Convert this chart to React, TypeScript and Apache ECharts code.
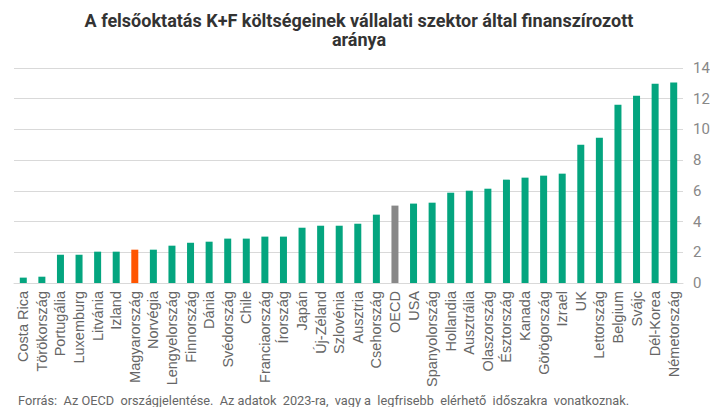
import React, { useEffect, useRef } from "react";
import * as echarts from "echarts";

const categories = [
  "Costa Rica", "Törökország", "Portugália", "Luxemburg", "Litvánia", "Izland",
  "Magyarország", "Norvégia", "Lengyelország", "Finnország", "Dánia", "Svédország",
  "Chile", "Franciaország", "Írország", "Japán", "Új-Zéland", "Szlovénia", "Ausztria",
  "Csehország", "OECD", "USA", "Spanyolország", "Hollandia", "Ausztrália", "Olaszország",
  "Észtország", "Kanada", "Görögország", "Izrael", "UK", "Lettország", "Belgium",
  "Svájc", "Dél-Korea", "Németország",
];

const values = [
  0.35, 0.41, 1.84, 1.84, 2.04, 2.04,
  2.17, 2.17, 2.43, 2.62, 2.69, 2.89,
  2.89, 3.02, 3.02, 3.6, 3.73, 3.73, 3.86,
  4.45, 5.04, 5.17, 5.23, 5.88, 6.01, 6.14,
  6.73, 6.86, 6.99, 7.12, 9.01, 9.46, 11.61,
  12.2, 12.98, 13.05,
];

const titleLines = [
  "A felsőoktatás K+F költségeinek vállalati szektor által finanszírozott",
  "aránya",
];
const sourceText = "Forrás:  Az OECD  országjelentése.  Az adatok  2023-ra,  vagy a  legfrisebb  elérhető  időszakra  vonatkoznak.";

const GREEN = "#04a57f";
const ORANGE = "#ff5500";
const GREY = "#888888";

export default function App() {
  const ref = useRef<HTMLDivElement>(null);
  useEffect(() => {
    if (!ref.current) return;
    const chart = echarts.init(ref.current, null, { renderer: "svg" });
    chart.setOption({
      animation: false,
      backgroundColor: "#ffffff",
      grid: { left: 14, right: 35, top: 68, bottom: 132, containLabel: false },
      xAxis: {
        type: "category",
        data: categories,
        axisLine: { show: true, lineStyle: { color: "#d9d9d9" } },
        axisTick: { show: false },
        axisLabel: {
          interval: 0,
          rotate: 90,
          fontFamily: "Liberation Sans, Arial",
          fontSize: 14.5,
          color: "#666666",
          margin: 8,
        },
      },
      yAxis: {
        type: "value",
        position: "right",
        min: 0,
        max: 14,
        interval: 2,
        axisLine: { show: false },
        axisTick: { show: false },
        splitLine: { lineStyle: { color: "#d9d9d9", width: 1 } },
        axisLabel: {
          fontFamily: "Roboto",
          fontSize: 15,
          color: "#888888",
          margin: 10,
        },
      },
      series: [
        {
          type: "bar",
          barWidth: 7,
          data: values.map((v, i) => ({
            value: v,
            itemStyle: {
              color:
                categories[i] === "Magyarország"
                  ? ORANGE
                  : categories[i] === "OECD"
                  ? GREY
                  : GREEN,
            },
          })),
        },
      ],
      graphic: [
        {
          type: "text",
          x: 359,
          y: 20,
          style: {
            text: titleLines[0],
            fontFamily: "Roboto",
            fontWeight: "bold",
            fontSize: 18,
            fill: "#333333",
            align: "center",
            verticalAlign: "middle",
          },
        },
        {
          type: "text",
          x: 359,
          y: 39,
          style: {
            text: titleLines[1],
            fontFamily: "Roboto",
            fontWeight: "bold",
            fontSize: 18,
            fill: "#333333",
            align: "center",
            verticalAlign: "middle",
          },
        },
        {
          type: "text",
          x: 18,
          y: 400,
          style: {
            text: sourceText,
            fontFamily: "Roboto",
            fontSize: 12.75,
            fill: "#666666",
            align: "left",
            verticalAlign: "middle",
          },
        },
      ],
    });
    return () => chart.dispose();
  }, []);
  return <div ref={ref} style={{ width: 718, height: 415, margin: -8 }} />;
}
